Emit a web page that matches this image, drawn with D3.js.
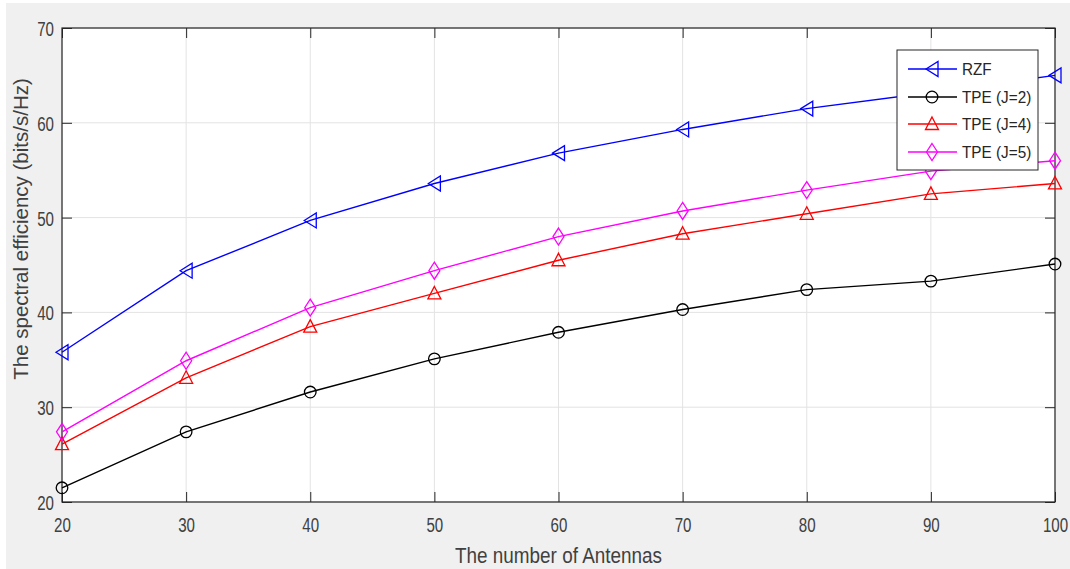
<!DOCTYPE html>
<html>
<head>
<meta charset="utf-8">
<script src="https://cdn.jsdelivr.net/npm/d3@7"></script>
<style>
  html, body { margin: 0; padding: 0; background: #ffffff; }
  svg { display: block; }
  text { font-family: "Liberation Sans", Arial, sans-serif; }
</style>
</head>
<body>
<svg id="chart" width="1070" height="569"></svg>
<script>
// Number of antennas on the x axis
const antennas = [20, 30, 40, 50, 60, 70, 80, 90, 100];

// Spectral efficiency (bits/s/Hz) per scheme
const rzf  = [35.8, 44.4, 49.7, 53.6, 56.8, 59.3, 61.5, 63.2, 65.0];
const tpe2 = [21.5, 27.4, 31.6, 35.1, 37.9, 40.3, 42.4, 43.3, 45.1];
const tpe4 = [26.1, 33.1, 38.5, 42.0, 45.5, 48.3, 50.4, 52.5, 53.6];
const tpe5 = [27.4, 34.9, 40.5, 44.4, 48.0, 50.7, 52.9, 54.9, 56.0];

const seriesNames  = ["RZF", "TPE (J=2)", "TPE (J=4)", "TPE (J=5)"];
const seriesColors = ["#0000ff", "#000000", "#ff0000", "#ff00ff"];
const seriesMarks  = ["triLeft", "circle", "triUp", "diamond"];

const xTicks = [20, 30, 40, 50, 60, 70, 80, 90, 100];
const yTicks = [20, 30, 40, 50, 60, 70];

const allSeries = [rzf, tpe2, tpe4, tpe5];

const svg = d3.select("#chart");
const W = 1070, H = 569;
const m = { left: 62, right: 1055, top: 28, bottom: 502 };

// figure background (thin white margin at the left and top edges)
svg.append("rect").attr("width", W).attr("height", H).attr("fill", "#ffffff");
svg.append("rect").attr("x", 6).attr("y", 3).attr("width", W - 6).attr("height", H - 3).attr("fill", "#f0f0f0");

const x = d3.scaleLinear().domain([20, 100]).range([m.left, m.right]);
const y = d3.scaleLinear().domain([20, 70]).range([m.bottom, m.top]);

// plot area
svg.append("rect")
  .attr("x", m.left).attr("y", m.top)
  .attr("width", m.right - m.left).attr("height", m.bottom - m.top)
  .attr("fill", "#ffffff");

// grid
const grid = svg.append("g").attr("stroke", "#e3e3e3").attr("stroke-width", 1);
xTicks.forEach(t => grid.append("line")
  .attr("x1", x(t)).attr("x2", x(t)).attr("y1", m.top).attr("y2", m.bottom));
yTicks.forEach(t => grid.append("line")
  .attr("x1", m.left).attr("x2", m.right).attr("y1", y(t)).attr("y2", y(t)));

// axes with inward ticks on all four sides
const tickLen = 10;
const axisColor = "#262626";
const squeeze = 0.72;   // condensed tick-label glyphs
const axB = d3.axisBottom(x).tickValues(xTicks).tickSizeInner(-tickLen).tickSizeOuter(0);
const axT = d3.axisTop(x).tickValues(xTicks).tickSizeInner(-tickLen).tickSizeOuter(0).tickFormat("");
const axL = d3.axisLeft(y).tickValues(yTicks).tickSizeInner(-tickLen).tickSizeOuter(0);
const axR = d3.axisRight(y).tickValues(yTicks).tickSizeInner(-tickLen).tickSizeOuter(0).tickFormat("");

function styleAxis(g) {
  g.select(".domain").remove();
  g.selectAll(".tick line").attr("stroke", axisColor);
  g.selectAll(".tick text")
    .attr("fill", "#404040")
    .style("font-size", "21px");
}

svg.append("g").attr("transform", `translate(0,${m.bottom})`).call(axB).call(styleAxis)
  .selectAll(".tick text")
  .attr("y", 30).attr("dy", 0)
  .attr("transform", `scale(${squeeze},1)`);
svg.append("g").attr("transform", `translate(0,${m.top})`).call(axT).call(styleAxis);
svg.append("g").attr("transform", `translate(${m.left},0)`).call(axL).call(styleAxis)
  .selectAll(".tick text")
  .attr("x", -8 / squeeze).attr("dy", "0.36em")
  .attr("transform", `scale(${squeeze},1)`);
svg.append("g").attr("transform", `translate(${m.right},0)`).call(axR).call(styleAxis);

// frame
svg.append("rect")
  .attr("x", m.left).attr("y", m.top)
  .attr("width", m.right - m.left).attr("height", m.bottom - m.top)
  .attr("fill", "none").attr("stroke", axisColor).attr("stroke-width", 1.2);

// axis titles
const xTitleScale = 0.86;
svg.append("text")
  .attr("transform", `translate(${(m.left + m.right) / 2},563) scale(${xTitleScale},1)`)
  .attr("text-anchor", "middle")
  .attr("fill", "#404040")
  .style("font-size", "22px")
  .text("The number of Antennas");

svg.append("text")
  .attr("transform", `translate(28,229) rotate(-90)`)
  .attr("text-anchor", "middle")
  .attr("fill", "#404040")
  .style("font-size", "20.5px")
  .text("The spectral efficiency (bits/s/Hz)");

// marker shapes centred on (0,0)
function markerPath(kind) {
  switch (kind) {
    case "triLeft": return "M-6,0 L6,-7.5 L6,7.5 Z";
    case "triUp":   return "M0,-7 L6.5,5.5 L-6.5,5.5 Z";
    case "diamond": return "M0,-8.5 L5.5,0 L0,8.5 L-5.5,0 Z";
    default: return null;
  }
}
function drawMarker(g, kind, color, cx, cy) {
  if (kind === "circle") {
    g.append("circle").attr("cx", cx).attr("cy", cy).attr("r", 5.8)
      .attr("fill", "none").attr("stroke", color).attr("stroke-width", 1.3);
  } else {
    g.append("path").attr("d", markerPath(kind))
      .attr("transform", `translate(${cx},${cy})`)
      .attr("fill", "none").attr("stroke", color).attr("stroke-width", 1.3);
  }
}

const line = d3.line().x((d, i) => x(antennas[i])).y(d => y(d));

allSeries.forEach((vals, k) => {
  const g = svg.append("g");
  g.append("path").attr("d", line(vals))
    .attr("fill", "none").attr("stroke", seriesColors[k]).attr("stroke-width", 1.4);
  vals.forEach((v, i) => drawMarker(g, seriesMarks[k], seriesColors[k], x(antennas[i]), y(v)));
});

// legend
const lg = svg.append("g");
lg.append("rect").attr("x", 897).attr("y", 50).attr("width", 141).attr("height", 120)
  .attr("fill", "#ffffff").attr("stroke", "#262626").attr("stroke-width", 1);
const rowY = [69, 97, 124, 152];
const legScale = 0.9;
seriesNames.forEach((name, k) => {
  lg.append("line").attr("x1", 908).attr("x2", 957).attr("y1", rowY[k]).attr("y2", rowY[k])
    .attr("stroke", seriesColors[k]).attr("stroke-width", 1.4);
  drawMarker(lg, seriesMarks[k], seriesColors[k], 932, rowY[k]);
  lg.append("text")
    .attr("transform", `translate(962,${rowY[k]}) scale(${legScale},1)`)
    .attr("dy", "0.36em")
    .attr("fill", "#262626")
    .style("font-size", "17px")
    .text(name);
});
</script>
</body>
</html>
